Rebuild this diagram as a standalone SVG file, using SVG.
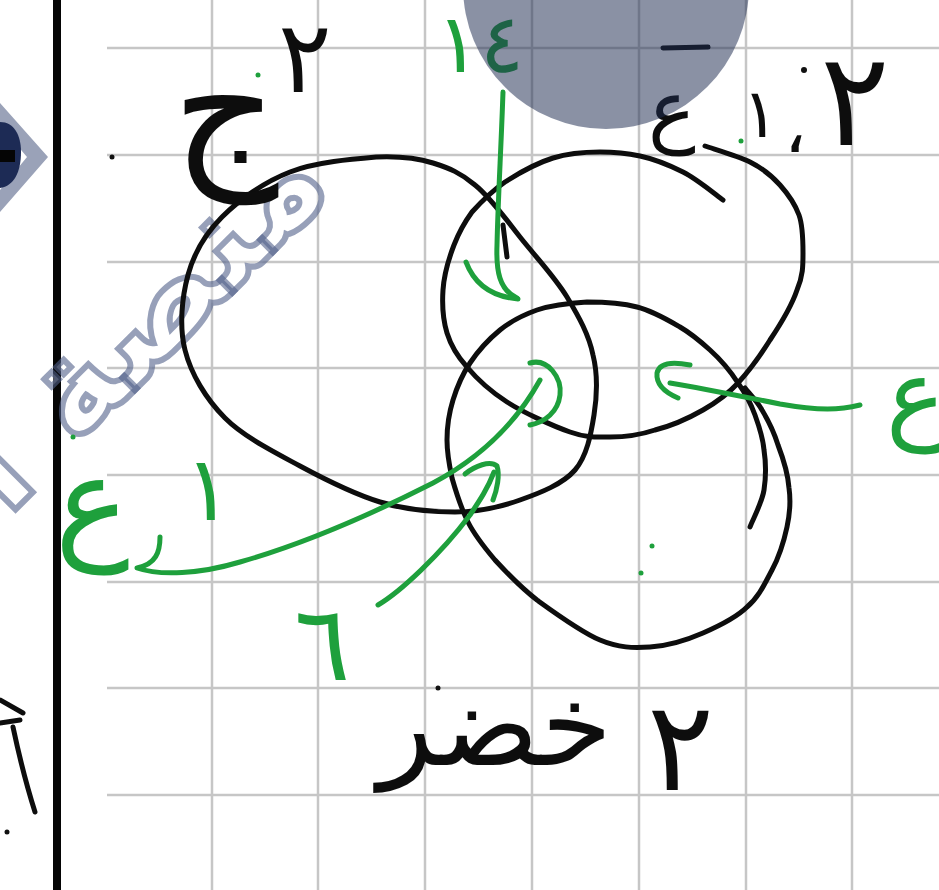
<svg xmlns="http://www.w3.org/2000/svg" width="939" height="890" viewBox="0 0 939 890">
<style>
.grid{stroke:#c6c6c6;stroke-width:2.5;fill:none}
.ink{fill:none;stroke:#0d0d0d;stroke-width:5;stroke-linecap:round;stroke-linejoin:round}
.gr{fill:none;stroke:#1ea03c;stroke-width:5;stroke-linecap:round;stroke-linejoin:round}
.lb{font-family:'DejaVu Sans','Noto Sans',sans-serif;font-weight:200;text-anchor:middle}
.k{fill:#0d0d0d}
.g{fill:#1ea03c}
.wm{font-family:'DejaVu Sans',sans-serif;font-weight:bold;fill:#ffffff;fill-opacity:0.3;stroke:#52608a;stroke-opacity:0.6;stroke-width:6;stroke-linejoin:miter}
</style>
<rect width="939" height="890" fill="#ffffff"/>
<g id="grid">
<path class="grid" d="M107,48H939M107,155H939M107,262H939M107,368H939M107,475H939M107,582H939M107,688H939M107,795H939"/>
<path class="grid" d="M212,0V890M318,0V890M425,0V890M532,0V890M639,0V890M746,0V890M852,0V890"/>
</g>
<rect id="margin" x="53" y="0" width="8" height="890" fill="#050505"/>
<g id="logo">
<polygon points="0,103 48,157 0,212 0,190 27,157 0,125" fill="#9aa2b8"/>
<path d="M0,122 C14,122 21,135 21,152 C21,172 14,186 0,188 Z" fill="#1d2b55"/>
<rect x="0" y="150" width="15" height="12" fill="#050505"/>
</g>
<g id="watermark">
<text class="wm" font-size="140" text-anchor="end" transform="translate(335,190) rotate(-45)">منصة ال</text>
</g>
<g id="setA">
<path class="ink" d="M377,157 C401,156 417,158 433,163 C449,168 461,173 475,185 C490,197 505,218 520,237 C535,256 555,277 567,297 C579,317 589,335 593,355 C598,375 597,396 594,415 C591,434 587,456 575,470 C563,484 540,493 520,500 C500,507 478,512 455,512 C432,512 406,510 380,502 C354,494 326,480 300,466 C274,452 244,437 225,418 C206,399 191,374 185,350 C179,326 182,297 188,275 C194,253 205,234 222,217 C239,200 264,182 290,172 C316,162 353,159 377,157 Z"/>
</g>
<g id="setB">
<path class="ink" d="M723,200 C716,195 697,179 683,172 C669,165 654,159 640,156 C626,153 615,152 600,152 C586,152 569,153 553,158 C537,163 519,173 505,182 C492,191 481,202 472,212 C464,223 459,232 454,245 C449,258 444,275 443,290 C442,305 443,320 447,333 C451,346 457,356 467,367 C477,379 490,391 507,402 C524,413 553,426 570,432 C587,438 596,437 610,437 C624,437 640,435 655,430 C671,426 689,418 703,410 C717,402 727,395 738,383 C749,371 760,356 770,340 C780,325 792,305 797,290 C803,276 803,266 803,253 C803,241 803,226 799,215 C795,204 788,194 780,185 C772,176 762,168 750,162 C738,156 717,150 705,146"/>
<path class="ink" d="M503,225 L507,257"/>
</g>
<g id="setC">
<path class="ink" d="M750,527 C752,521 762,503 764,490 C766,477 766,463 764,450 C763,438 759,426 755,415 C751,404 746,394 738,383 C731,372 720,359 710,350 C700,341 692,334 680,327 C668,320 653,311 637,307 C622,303 604,302 587,302 C570,303 552,305 537,310 C523,315 511,321 500,330 C489,339 478,351 470,363 C462,375 457,387 453,400 C449,413 447,427 447,440 C447,453 449,464 452,478 C456,492 461,508 468,522 C475,536 484,547 495,560 C507,573 520,587 537,600 C555,613 581,632 600,640 C619,648 633,648 650,647 C667,646 687,640 703,633 C719,626 736,618 747,607 C759,597 765,583 772,570 C779,557 784,541 787,527 C790,513 791,502 789,488 C788,474 783,458 778,445 C774,432 768,420 762,410 C757,401 748,392 745,388"/>
</g>
<g id="connectors">
<path class="gr" d="M503,92 C501,150 498,200 497,245 C496,270 499,290 517,298"/>
<path class="gr" d="M466,262 C472,278 486,296 518,299"/>
<path class="gr" d="M160,537 C160,552 156,564 137,568 C160,576 200,574 240,562 C300,545 370,515 433,483 C480,458 515,425 540,380"/>
<path class="gr" d="M530,363 C548,358 562,378 560,395 C558,412 545,422 530,425"/>
<path class="gr" d="M378,605 C400,592 440,555 470,515 C480,500 488,488 494,472"/>
<path class="gr" d="M465,474 C475,466 490,460 497,466 C500,475 497,490 493,500"/>
<path class="gr" d="M860,405 C840,410 820,411 780,404 C750,398 700,388 670,383"/>
<path class="gr" d="M678,398 C664,392 656,384 657,373 C659,364 670,361 690,365"/>
</g>
<g id="labels">
<text class="lb k" x="305" y="92" font-size="100">٢</text>
<text class="lb k" x="225" y="165" font-size="165">ج</text>
<text class="lb k" x="672" y="137" font-size="80">ع</text>
<text class="lb k" x="760" y="137" font-size="68">١</text>
<text class="lb k" x="795" y="152" font-size="70">،</text>
<text class="lb k" x="855" y="145" font-size="130">٢</text>
<path class="ink" d="M663,48 L708,47"/>
<text class="lb g" x="480" y="72" font-size="82">١٤</text>
<text class="lb k" x="495" y="765" font-size="115">خضر</text>
<text class="lb k" x="680" y="790" font-size="125">٢</text>
<text class="lb g" x="92" y="545" font-size="125">ع</text>
<text class="lb g" x="208" y="520" font-size="90">١</text>
<text class="lb g" x="322" y="680" font-size="105">٦</text>
<text class="lb g" x="886" y="430" font-size="100" style="text-anchor:start">ع</text>
</g>
<g id="marks">
<circle cx="112" cy="157" r="2.5" fill="#111"/>
<circle cx="438" cy="688" r="2.5" fill="#111"/>
<circle cx="804" cy="70" r="3" fill="#111"/>
<circle cx="7" cy="832" r="2.5" fill="#111"/>
<circle cx="258" cy="75" r="2.5" fill="#1ea03c"/>
<circle cx="741" cy="141" r="2.5" fill="#1ea03c"/>
<circle cx="652" cy="546" r="2.5" fill="#1ea03c"/>
<circle cx="641" cy="573" r="2.5" fill="#1ea03c"/>
<circle cx="73" cy="437" r="2.5" fill="#1ea03c"/>
<path class="ink" d="M0,700 L23,713 M0,723 L20,720 M13,727 C20,760 28,790 35,812" stroke-width="4"/>
</g>
<circle id="overlay" cx="606" cy="-14" r="143" fill="#1e2d50" fill-opacity="0.52"/>
</svg>
